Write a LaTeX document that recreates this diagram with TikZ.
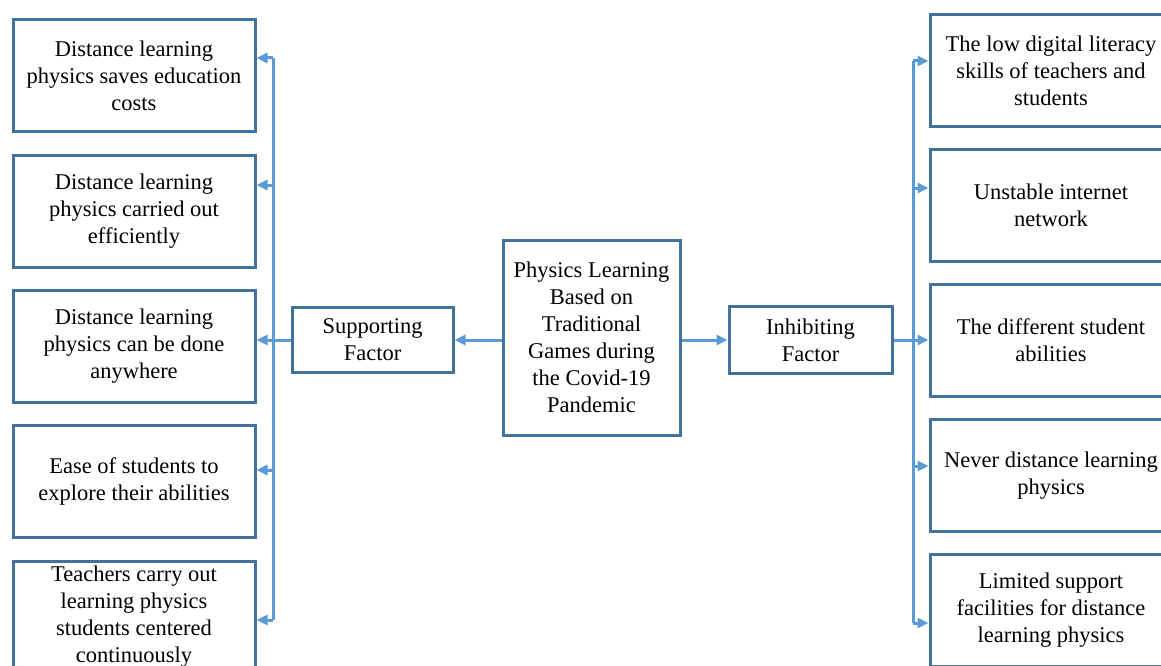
\documentclass[tikz,border=0pt]{standalone}
\usepackage{fontspec}
\setmainfont{Liberation Serif}
\usepackage{xcolor}
\usepackage{tikz}
\usetikzlibrary{arrows.meta}

\definecolor{boxblue}{HTML}{41719C}
\definecolor{linkblue}{HTML}{5B9BD5}

\begin{document}
\begin{tikzpicture}[x=1pt, y=-1pt,
	factorbox/.style={draw=boxblue, line width=3pt, align=center, inner sep=0pt,
		font=\fontsize{22.5}{27}\selectfont, text=black},
	sidebox/.style={factorbox, minimum width=242, minimum height=112},
	link/.style={draw=linkblue, line width=3pt, -{Triangle[length=11pt, width=10pt]}},
	busline/.style={draw=linkblue, line width=3pt}]
	\useasboundingbox (0,0) rectangle (1161,666);
	\clip (0,0) rectangle (1161,666);
	
	% centre and the two factors
	\node[factorbox, minimum width=177, minimum height=195] (core) at (591.5,337.5)
		{Physics Learning\\Based on\\Traditional\\Games during\\the Covid-19\\Pandemic};
	\node[factorbox, minimum width=161, minimum height=65] (supp) at (372.5,340) {Supporting\\Factor};
	\node[factorbox, minimum width=163, minimum height=67] (inhib) at (810.5,340) {Inhibiting\\Factor};
	
	% supporting side
	\node[sidebox] (sup1) at (134,75.5) {Distance learning\\physics saves education\\costs};
	\node[sidebox] (sup2) at (134,211) {Distance learning\\physics carried out\\efficiently};
	\node[sidebox] (sup3) at (134,346) {Distance learning\\physics can be done\\anywhere};
	\node[sidebox] (sup4) at (134,481) {Ease of students to\\explore their abilities};
	\node[sidebox] (sup5) at (134,617) {Teachers carry out\\learning physics\\students centered\\continuously};
	
	% inhibiting side
	\node[sidebox] (inh1) at (1051,70.5) {The low digital literacy\\skills of teachers and\\students};
	\node[sidebox] (inh2) at (1051,205.5) {Unstable internet\\network};
	\node[sidebox] (inh3) at (1051,340.5) {The different student\\abilities};
	\node[sidebox] (inh4) at (1051,475.5) {Never distance learning\\physics};
	\node[sidebox] (inh5) at (1051,610.5) {Limited support\\facilities for distance\\learning physics};
	
	\coordinate (sbus1) at (273,58);
	\coordinate (sbus2) at (273,185);
	\coordinate (sbus4) at (273,470);
	\coordinate (sbus5) at (273,620);
	\coordinate (ibus1) at (913,61);
	\coordinate (ibus2) at (913,188);
	\coordinate (ibus4) at (913,466);
	\coordinate (ibus5) at (913,623);
	
	\draw[link] (core.west |- supp.east) -- (supp.east);
	\draw[link] (core.east |- inhib.west) -- (inhib.west);
	\draw[link] (supp.west) -- (supp.west -| sup3.east);
	\draw[link] (inhib.east) -- (inhib.east -| inh3.west);
	
	\draw[busline] (sbus1) -- (sbus5);
	\draw[link] (sbus1) -- (sbus1 -| sup1.east);
	\draw[link] (sbus2) -- (sbus2 -| sup2.east);
	\draw[link] (sbus4) -- (sbus4 -| sup4.east);
	\draw[link] (sbus5) -- (sbus5 -| sup5.east);
	
	\draw[busline] (ibus1) -- (ibus5);
	\draw[link] (ibus1) -- (ibus1 -| inh1.west);
	\draw[link] (ibus2) -- (ibus2 -| inh2.west);
	\draw[link] (ibus4) -- (ibus4 -| inh4.west);
	\draw[link] (ibus5) -- (ibus5 -| inh5.west);
\end{tikzpicture}
\end{document}
